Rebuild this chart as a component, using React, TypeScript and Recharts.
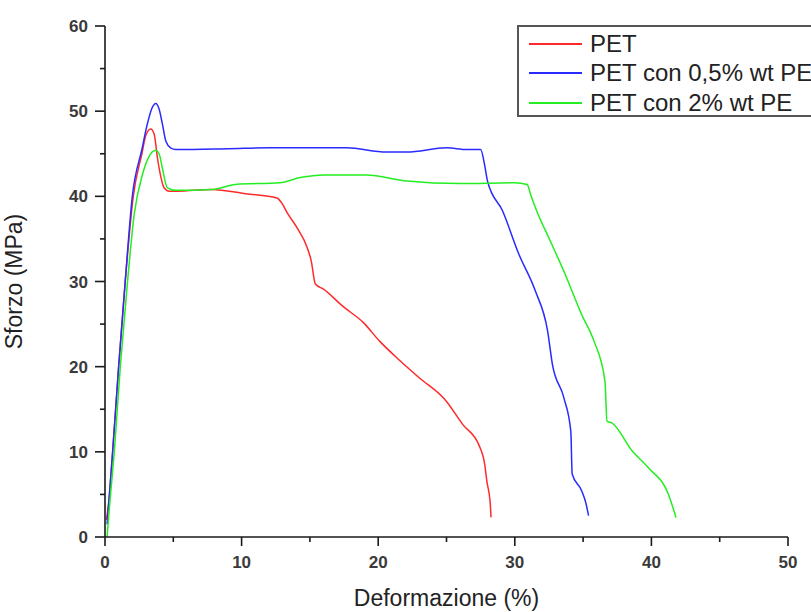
import React from 'react';
import { LineChart, Line, XAxis, YAxis } from 'recharts';

// PET
const petX = [0.1, 0.3, 0.56, 1.0, 1.48, 2.07, 2.7, 3.0, 3.35, 3.6, 3.84, 4.1, 4.32, 4.7, 5.3, 7.8, 10.3, 12.6, 12.9, 13.4, 14.1, 14.8, 15.1, 15.4, 16.0, 17.4, 18.9, 20.1, 21.6, 23.0, 24.85, 26.2, 27.4, 27.8, 27.95, 28.2, 28.26];
const petY = [2, 4.5, 10, 20, 30, 40, 45, 47.2, 47.9, 47.3, 44.5, 42.2, 41.0, 40.6, 40.6, 40.8, 40.3, 39.8, 39.3, 37.9, 36.2, 34.0, 32.4, 29.7, 29.1, 27.1, 25.2, 23.0, 20.7, 18.7, 16.2, 13.2, 10.7, 8.5, 6.6, 4, 2.3];

// PET con 0,5% wt PE
const pe05X = [0.15, 0.3, 0.56, 1.0, 1.48, 2.0, 2.7, 3.1, 3.45, 3.72, 3.95, 4.2, 4.45, 4.8, 5.17, 9.06, 12, 17.7, 20.6, 22.1, 25.0, 26.5, 27.5, 27.8, 28.0, 29.1, 30.3, 31.5, 32.4, 32.75, 33.6, 34.1, 34.2, 34.9, 35.2, 35.4];
const pe05Y = [1.5, 4.5, 10, 20, 30, 40, 45.5, 48.5, 50.4, 50.9, 50.3, 48.5, 46.5, 45.7, 45.5, 45.6, 45.7, 45.7, 45.2, 45.2, 45.7, 45.5, 45.5, 43.6, 41.8, 38.3, 33.2, 28.9, 24.2, 20.3, 16.3, 12.4, 7.4, 5.4, 4, 2.5];

// PET con 2% wt PE
const pe2X = [0.15, 0.35, 0.68, 1.12, 1.65, 2.14, 2.75, 3.2, 3.72, 4.0, 4.2, 4.57, 5.17, 7.85, 9.55, 12.8, 14.3, 16.0, 19.1, 22.1, 26.0, 30.0, 30.9, 31.2, 31.65, 32.5, 33.7, 34.9, 35.8, 36.6, 36.75, 37.1, 38.6, 39.8, 41.25, 41.8];
const pe2Y = [0, 4, 10, 20, 30, 37.9, 42.6, 44.6, 45.4, 44.8, 43.3, 41.0, 40.7, 40.8, 41.4, 41.6, 42.2, 42.5, 42.5, 41.8, 41.5, 41.6, 41.4, 40, 38.1, 35.1, 30.8, 26.1, 23.0, 18.3, 13.6, 13.4, 10.1, 8.1, 5.0, 2.3];

const xTicks = [0, 5, 10, 15, 20, 25, 30, 35, 40, 45, 50];
const yTicks = [0, 5, 10, 15, 20, 25, 30, 35, 40, 45, 50, 55, 60];

const series = [
  { name: 'PET', color: '#ff2a2a', xs: petX, ys: petY },
  { name: 'PET con 0,5% wt PE', color: '#2a2aff', xs: pe05X, ys: pe05Y },
  { name: 'PET con 2% wt PE', color: '#22ee22', xs: pe2X, ys: pe2Y },
];

const toPoints = (xs: number[], ys: number[]) => xs.map((x, i) => ({ x, y: ys[i] }));

const font = '"Liberation Sans", Arial, sans-serif';

function XTick({ x, y, payload }: any) {
  const major = payload.value % 10 === 0;
  return (
    <g>
      <line x1={x} y1={y} x2={x} y2={y + (major ? 9 : 5)} stroke="#1a1a1a" strokeWidth={1.6} />
      {major && (
        <text x={x} y={y + 31} textAnchor="middle" fontFamily={font} fontWeight="bold" fontSize={17} fill="#3a3a3a">
          {payload.value}
        </text>
      )}
    </g>
  );
}

function YTick({ x, y, payload }: any) {
  const major = payload.value % 10 === 0;
  return (
    <g>
      <line x1={x} y1={y} x2={x - (major ? 10 : 5)} y2={y} stroke="#1a1a1a" strokeWidth={1.6} />
      {major && (
        <text x={x - 17} y={y + 6} textAnchor="end" fontFamily={font} fontWeight="bold" fontSize={17} fill="#3a3a3a">
          {payload.value}
        </text>
      )}
    </g>
  );
}

function LegendBox() {
  return (
    <div
      style={{
        position: 'absolute',
        left: 517,
        top: 25,
        border: '2px solid #555',
        background: '#fff',
        height: 86,
        width: 320,
        paddingTop: 2,
        fontFamily: font,
        fontSize: 24,
        color: '#222',
      }}
    >
      {series.map((s) => (
        <div key={s.name} style={{ display: 'flex', alignItems: 'center', height: 29.5, whiteSpace: 'nowrap' }}>
          <div style={{ width: 53, height: 2, background: s.color, marginLeft: 10, marginRight: 8 }} />
          <span>{s.name}</span>
        </div>
      ))}
    </div>
  );
}

export default function App() {
  return (
    <div style={{ position: 'absolute', left: 0, top: 0, width: 811, height: 612, overflow: 'hidden', background: '#fff' }}>
      <LineChart width={811} height={612} margin={{ top: 26, right: 23, left: 0, bottom: 0 }}>
        <XAxis
          type="number"
          dataKey="x"
          domain={[0, 50]}
          ticks={xTicks}
          interval={0}
          height={75}
          tickSize={0}
          tickMargin={0}
          tickLine={false}
          tick={<XTick />}
          axisLine={{ stroke: '#1a1a1a', strokeWidth: 1.6 }}
          allowDataOverflow
          label={{
            value: 'Deformazione (%)',
            position: 'insideBottom',
            offset: 6,
            style: { fontFamily: font, fontSize: 23, fill: '#222' },
          }}
        />
        <YAxis
          type="number"
          dataKey="y"
          domain={[0, 60]}
          ticks={yTicks}
          interval={0}
          width={105}
          tickSize={0}
          tickMargin={0}
          tickLine={false}
          tick={<YTick />}
          axisLine={{ stroke: '#1a1a1a', strokeWidth: 1.6 }}
          label={{
            value: 'Sforzo (MPa)',
            angle: -90,
            position: 'insideLeft',
            offset: 14,
            style: { fontFamily: font, fontSize: 23, fill: '#222', textAnchor: 'middle' },
          }}
        />
        {series.map((s) => (
          <Line
            key={s.name}
            data={toPoints(s.xs, s.ys)}
            dataKey="y"
            name={s.name}
            type="monotone"
            stroke={s.color}
            strokeWidth={1.5}
            dot={false}
            isAnimationActive={false}
          />
        ))}
      </LineChart>
      <LegendBox />
    </div>
  );
}
